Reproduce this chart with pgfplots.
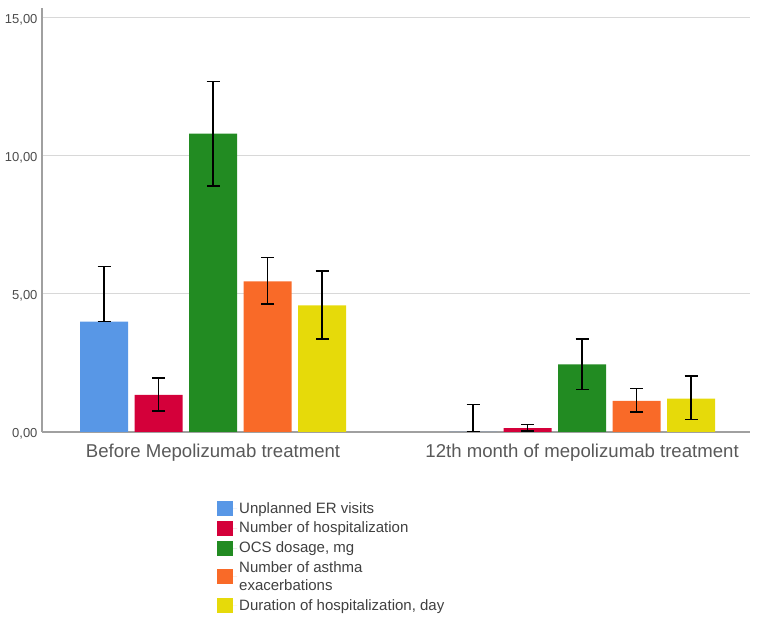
\documentclass[border=0pt]{standalone}
\usepackage{pgfplots}
\pgfplotsset{compat=1.18}
\usepackage{fontspec}
\setmainfont{Liberation Sans}
\definecolor{cblue}{HTML}{5897E6}
\definecolor{cred}{HTML}{D4003A}
\definecolor{cgreen}{HTML}{228B22}
\definecolor{corange}{HTML}{F96A28}
\definecolor{cyellow}{HTML}{E6DA0A}
\definecolor{axgray}{HTML}{A0A0A0}
\definecolor{gridgray}{HTML}{D8D8D8}
\begin{document}
\begin{tikzpicture}[x=1pt,y=1pt]
\useasboundingbox (0,0) rectangle (758,618);
\begin{axis}[
  at={(42pt,186pt)}, anchor=south west,
  scale only axis, width=708pt, height=424pt,
  xmin=-0.4634, xmax=1.455, ymin=0, ymax=15.35,
  ybar, bar width=48pt, bar shift=0pt,
  axis x line*=bottom, axis y line*=left,
  axis line style={draw=axgray, line width=1.3pt, -},
  xtick={0,1}, xticklabels={Before Mepolizumab treatment, 12th month of mepolizumab treatment},
  ytick={0,5,10,15},
  major tick length=0pt,
  ymajorgrids, grid style={draw=gridgray, line width=1pt},
  /pgf/number format/assume math mode=true,
  yticklabel={\pgfmathprintnumber[fixed,fixed zerofill,precision=2,use comma]{\tick}},
  yticklabel style={font=\fontsize{13}{15}\selectfont, text=black!70, xshift=-1pt, yshift=-2pt},
  xticklabel style={font=\fontsize{18.6}{20}\selectfont, text=black!65, yshift=-8pt},
  error bars/y dir=both, error bars/y explicit,
  error bars/error bar style={black, line width=1.4pt},
  error bars/error mark options={rotate=90, mark size=6.5pt, line width=1.4pt, black},
  legend style={at={(175pt,-68pt)}, anchor=north west, draw=none, fill=none,
    font=\fontsize{15}{18}\selectfont, text=black!75, cells={align=left, anchor=west},
    row sep=3.5pt, inner sep=0pt},
  legend image code/.code={\fill[#1] (0pt,-7.5pt) rectangle (16pt,7.5pt); \path (0pt,0pt) -- (20pt,0pt);},
]
\addplot[fill=cblue, draw=none] coordinates {(-0.2954,4.00) += (0,2.00) -= (0,0.00) (0.7046,0) += (0,1.00) -= (0,0)};
\addlegendentry{Unplanned ER visits}
\addplot[fill=cred, draw=none] coordinates {(-0.1477,1.34) += (0,0.62) -= (0,0.58) (0.8523,0.14) += (0,0.14) -= (0,0.10)};
\addlegendentry{Number of hospitalization}
\addplot[fill=cgreen, draw=none] coordinates {(0,10.80) += (0,1.88) -= (0,1.89) (1,2.45) += (0,0.91) -= (0,0.91)};
\addlegendentry{OCS dosage, mg}
\addplot[fill=corange, draw=none] coordinates {(0.1477,5.45) += (0,0.87) -= (0,0.82) (1.1477,1.13) += (0,0.45) -= (0,0.40)};
\addlegendentry{Number of asthma\\exacerbations}
\addplot[fill=cyellow, draw=none] coordinates {(0.2954,4.58) += (0,1.25) -= (0,1.21) (1.2954,1.21) += (0,0.82) -= (0,0.75)};
\addlegendentry{Duration of hospitalization, day}
\end{axis}
\end{tikzpicture}
\end{document}
